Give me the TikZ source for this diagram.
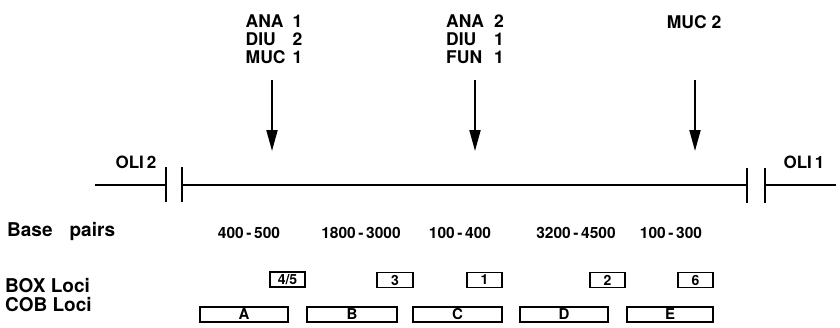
\documentclass[tikz,border=0pt]{standalone}
\usepackage{fontspec}
\setmainfont{TeX Gyre Heros}
\usetikzlibrary{arrows.meta}
\begin{document}
\begin{tikzpicture}[x=1pt,y=-1pt,
  lbl/.style={inner sep=0pt, anchor=north, font=\fontsize{17.5}{16.5}\selectfont\bfseries},
  side/.style={inner sep=0pt, font=\fontsize{19}{19}\selectfont\bfseries, anchor=base west},
  bp/.style={inner sep=0pt, anchor=base, font=\fontsize{15.5}{15.5}\selectfont\bfseries},
  oli/.style={inner sep=0pt, anchor=base, font=\fontsize{17}{17}\selectfont\bfseries},
  boxl/.style={draw, line width=1.6pt, minimum height=15pt, inner sep=0pt, font=\fontsize{14}{14}\selectfont\bfseries},
  cob/.style={draw, line width=1.6pt, minimum height=15pt, inner sep=0pt, font=\fontsize{15}{15}\selectfont\bfseries},
  site/.style={line width=2pt, -{Triangle[width=11pt,length=21pt]}},
  dna/.style={line width=1.8pt}]
\useasboundingbox (0,0) rectangle (840,327);

% sites
\node[lbl] (s1) at (274,15) {\begin{tabular}{@{}l@{\hspace{7pt}}r@{}}ANA&1\\DIU&2\\MUC&1\end{tabular}};
\node[lbl] (s2) at (475,15) {\begin{tabular}{@{}l@{\hspace{10pt}}r@{}}ANA&2\\DIU&1\\FUN&1\end{tabular}};
\node[lbl] (s3) at (694,15) {MUC 2};
\coordinate (a1) at (272,80); \coordinate (t1) at (272,151);
\coordinate (a2) at (475,80); \coordinate (t2) at (475,151);
\coordinate (a3) at (695,80); \coordinate (t3) at (695,151);
\draw[site] (a1) -- (t1);
\draw[site] (a2) -- (t2);
\draw[site] (a3) -- (t3);

% DNA line
\coordinate (l0) at (95,185); \coordinate (l1) at (166,185);
\coordinate (l2) at (182,185); \coordinate (l3) at (747,185);
\coordinate (l4) at (765,185); \coordinate (l5) at (836,185);
\draw[dna] (l0) -- (l1);
\draw[dna] (l2) -- (l3);
\draw[dna] (l4) -- (l5);
\coordinate (k1a) at (166,167); \coordinate (k1b) at (166,202);
\coordinate (k2a) at (182,167); \coordinate (k2b) at (182,202);
\coordinate (k3a) at (747,168); \coordinate (k3b) at (747,203);
\coordinate (k4a) at (765,168); \coordinate (k4b) at (765,203);
\draw[dna] (k1a) -- (k1b);
\draw[dna] (k2a) -- (k2b);
\draw[dna] (k3a) -- (k3b);
\draw[dna] (k4a) -- (k4b);
\node[oli] (oli2) at (136,168) {OLI\hspace{3pt}2};
\node[oli] (oli1) at (804,168) {OLI\hspace{3pt}1};

% rows
\node[side] (bpl) at (7,236) {Base\hspace{17pt}pairs};
\node[side] (boxlbl) at (5,292) {BOX Loci};
\node[side] (coblbl) at (5,311) {COB Loci};

\node[bp] (n1) at (249,238) {400\,-\,500};
\node[bp] (n2) at (361,238) {1800\,-\,3000};
\node[bp] (n3) at (460,238) {100\,-\,400};
\node[bp] (n4) at (576,238) {3200\,-\,4500};
\node[bp] (n5) at (671,238) {100\,-\,300};

\node[boxl, minimum width=35pt, line width=2.4pt] (b45) at (287.5,279.5) {4/5};
\node[boxl, minimum width=36pt] (b3) at (395,280) {3};
\node[boxl, minimum width=35pt] (b1) at (484.5,280) {1};
\node[boxl, minimum width=35pt] (b2) at (607.5,280) {2};
\node[boxl, minimum width=35pt] (b6) at (695.5,280) {6};

\node[cob, minimum width=88pt] (cA) at (244,314.5) {A};
\node[cob, minimum width=90pt] (cB) at (352,314.5) {B};
\node[cob, minimum width=89pt] (cC) at (457.5,314.5) {C};
\node[cob, minimum width=88pt] (cD) at (564,314.5) {D};
\node[cob, minimum width=86pt] (cE) at (670,314.5) {E};
\end{tikzpicture}
\end{document}
